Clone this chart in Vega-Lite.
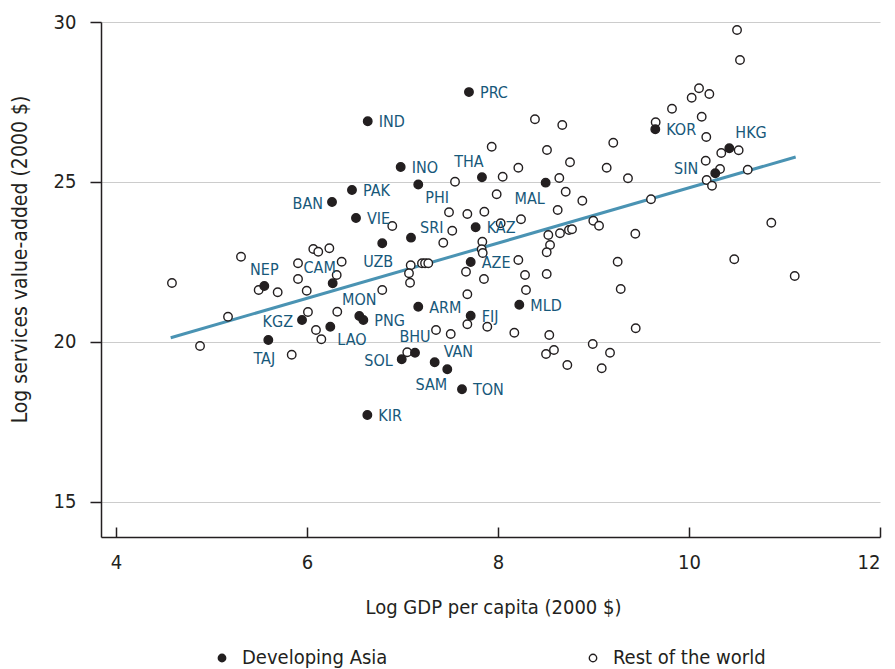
{
  "$schema": "https://vega.github.io/schema/vega-lite/v6.json",
  "width": 779,
  "height": 515,
  "autosize": {"type": "none"},
  "padding": {"left": 101, "top": 22, "right": 15, "bottom": 132},
  "config": {
    "view": {"stroke": null},
    "font": "DejaVu Sans Condensed, Liberation Sans Narrow, sans-serif",
    "axis": {
      "labelFont": "DejaVu Sans Condensed, Liberation Sans Narrow, sans-serif",
      "titleFont": "DejaVu Sans Condensed, Liberation Sans Narrow, sans-serif",
      "labelFontSize": 20,
      "titleFontSize": 20,
      "titleFontWeight": "normal",
      "labelColor": "#231f20",
      "titleColor": "#231f20",
      "domainColor": "#231f20",
      "domainWidth": 1.5,
      "tickColor": "#231f20",
      "tickWidth": 1.5
    },
    "legend": {
      "labelFont": "DejaVu Sans Condensed, Liberation Sans Narrow, sans-serif"
    }
  },
  "datasets": {
    "pts": [
      {"group": "Rest of the world", "gdp": 4.586, "sva": 21.844},
      {"group": "Rest of the world", "gdp": 4.880, "sva": 19.875},
      {"group": "Rest of the world", "gdp": 5.173, "sva": 20.79},
      {"group": "Rest of the world", "gdp": 5.309, "sva": 22.666},
      {"group": "Rest of the world", "gdp": 5.494, "sva": 21.625},
      {"group": "Rest of the world", "gdp": 5.693, "sva": 21.553},
      {"group": "Rest of the world", "gdp": 5.840, "sva": 19.603},
      {"group": "Rest of the world", "gdp": 5.906, "sva": 22.459},
      {"group": "Rest of the world", "gdp": 5.906, "sva": 21.969},
      {"group": "Rest of the world", "gdp": 5.997, "sva": 21.603},
      {"group": "Rest of the world", "gdp": 6.066, "sva": 22.906},
      {"group": "Rest of the world", "gdp": 6.118, "sva": 22.822},
      {"group": "Rest of the world", "gdp": 6.234, "sva": 22.928},
      {"group": "Rest of the world", "gdp": 6.363, "sva": 22.509},
      {"group": "Rest of the world", "gdp": 6.311, "sva": 22.094},
      {"group": "Rest of the world", "gdp": 6.010, "sva": 20.938},
      {"group": "Rest of the world", "gdp": 6.094, "sva": 20.375},
      {"group": "Rest of the world", "gdp": 6.150, "sva": 20.084},
      {"group": "Rest of the world", "gdp": 6.317, "sva": 20.947},
      {"group": "Rest of the world", "gdp": 6.788, "sva": 21.625},
      {"group": "Rest of the world", "gdp": 7.550, "sva": 25.009},
      {"group": "Rest of the world", "gdp": 7.986, "sva": 24.616},
      {"group": "Rest of the world", "gdp": 8.709, "sva": 24.697},
      {"group": "Rest of the world", "gdp": 8.883, "sva": 24.416},
      {"group": "Rest of the world", "gdp": 8.625, "sva": 24.125},
      {"group": "Rest of the world", "gdp": 8.241, "sva": 23.834},
      {"group": "Rest of the world", "gdp": 7.487, "sva": 24.053},
      {"group": "Rest of the world", "gdp": 7.679, "sva": 24.0},
      {"group": "Rest of the world", "gdp": 7.857, "sva": 24.072},
      {"group": "Rest of the world", "gdp": 6.893, "sva": 23.625},
      {"group": "Rest of the world", "gdp": 7.521, "sva": 23.478},
      {"group": "Rest of the world", "gdp": 8.028, "sva": 23.709},
      {"group": "Rest of the world", "gdp": 7.427, "sva": 23.103},
      {"group": "Rest of the world", "gdp": 7.836, "sva": 23.134},
      {"group": "Rest of the world", "gdp": 7.829, "sva": 22.897},
      {"group": "Rest of the world", "gdp": 7.840, "sva": 22.781},
      {"group": "Rest of the world", "gdp": 8.527, "sva": 23.344},
      {"group": "Rest of the world", "gdp": 8.649, "sva": 23.397},
      {"group": "Rest of the world", "gdp": 8.743, "sva": 23.5},
      {"group": "Rest of the world", "gdp": 8.775, "sva": 23.522},
      {"group": "Rest of the world", "gdp": 8.998, "sva": 23.791},
      {"group": "Rest of the world", "gdp": 9.058, "sva": 23.634},
      {"group": "Rest of the world", "gdp": 8.545, "sva": 23.031},
      {"group": "Rest of the world", "gdp": 8.510, "sva": 22.803},
      {"group": "Rest of the world", "gdp": 9.253, "sva": 22.509},
      {"group": "Rest of the world", "gdp": 9.285, "sva": 21.656},
      {"group": "Rest of the world", "gdp": 8.213, "sva": 22.563},
      {"group": "Rest of the world", "gdp": 8.283, "sva": 22.094},
      {"group": "Rest of the world", "gdp": 8.510, "sva": 22.125},
      {"group": "Rest of the world", "gdp": 8.293, "sva": 21.625},
      {"group": "Rest of the world", "gdp": 7.086, "sva": 22.397},
      {"group": "Rest of the world", "gdp": 7.068, "sva": 22.147},
      {"group": "Rest of the world", "gdp": 7.079, "sva": 21.853},
      {"group": "Rest of the world", "gdp": 7.204, "sva": 22.459},
      {"group": "Rest of the world", "gdp": 7.236, "sva": 22.459},
      {"group": "Rest of the world", "gdp": 7.270, "sva": 22.459},
      {"group": "Rest of the world", "gdp": 7.665, "sva": 22.197},
      {"group": "Rest of the world", "gdp": 7.853, "sva": 21.969},
      {"group": "Rest of the world", "gdp": 7.679, "sva": 21.491},
      {"group": "Rest of the world", "gdp": 7.351, "sva": 20.375},
      {"group": "Rest of the world", "gdp": 7.505, "sva": 20.25},
      {"group": "Rest of the world", "gdp": 7.679, "sva": 20.553},
      {"group": "Rest of the world", "gdp": 7.888, "sva": 20.478},
      {"group": "Rest of the world", "gdp": 8.171, "sva": 20.291},
      {"group": "Rest of the world", "gdp": 8.537, "sva": 20.219},
      {"group": "Rest of the world", "gdp": 8.992, "sva": 19.938},
      {"group": "Rest of the world", "gdp": 9.173, "sva": 19.666},
      {"group": "Rest of the world", "gdp": 8.503, "sva": 19.625},
      {"group": "Rest of the world", "gdp": 8.586, "sva": 19.75},
      {"group": "Rest of the world", "gdp": 8.726, "sva": 19.281},
      {"group": "Rest of the world", "gdp": 9.086, "sva": 19.178},
      {"group": "Rest of the world", "gdp": 7.050, "sva": 19.678},
      {"group": "Rest of the world", "gdp": 10.534, "sva": 28.813},
      {"group": "Rest of the world", "gdp": 10.503, "sva": 29.75},
      {"group": "Rest of the world", "gdp": 10.105, "sva": 27.928},
      {"group": "Rest of the world", "gdp": 10.213, "sva": 27.75},
      {"group": "Rest of the world", "gdp": 10.028, "sva": 27.634},
      {"group": "Rest of the world", "gdp": 9.822, "sva": 27.291},
      {"group": "Rest of the world", "gdp": 10.133, "sva": 27.041},
      {"group": "Rest of the world", "gdp": 9.651, "sva": 26.866},
      {"group": "Rest of the world", "gdp": 10.181, "sva": 26.406},
      {"group": "Rest of the world", "gdp": 8.673, "sva": 26.781},
      {"group": "Rest of the world", "gdp": 9.207, "sva": 26.228},
      {"group": "Rest of the world", "gdp": 10.338, "sva": 25.906},
      {"group": "Rest of the world", "gdp": 10.520, "sva": 25.991},
      {"group": "Rest of the world", "gdp": 10.175, "sva": 25.666},
      {"group": "Rest of the world", "gdp": 10.325, "sva": 25.406},
      {"group": "Rest of the world", "gdp": 10.615, "sva": 25.384},
      {"group": "Rest of the world", "gdp": 10.185, "sva": 25.063},
      {"group": "Rest of the world", "gdp": 10.241, "sva": 24.884},
      {"group": "Rest of the world", "gdp": 8.754, "sva": 25.616},
      {"group": "Rest of the world", "gdp": 8.513, "sva": 26.0},
      {"group": "Rest of the world", "gdp": 9.138, "sva": 25.447},
      {"group": "Rest of the world", "gdp": 8.642, "sva": 25.125},
      {"group": "Rest of the world", "gdp": 9.361, "sva": 25.116},
      {"group": "Rest of the world", "gdp": 9.602, "sva": 24.459},
      {"group": "Rest of the world", "gdp": 9.438, "sva": 23.384},
      {"group": "Rest of the world", "gdp": 10.862, "sva": 23.728},
      {"group": "Rest of the world", "gdp": 10.474, "sva": 22.584},
      {"group": "Rest of the world", "gdp": 11.107, "sva": 22.063},
      {"group": "Rest of the world", "gdp": 9.442, "sva": 20.428},
      {"group": "Rest of the world", "gdp": 8.387, "sva": 26.959},
      {"group": "Rest of the world", "gdp": 7.934, "sva": 26.103},
      {"group": "Rest of the world", "gdp": 8.213, "sva": 25.447},
      {"group": "Rest of the world", "gdp": 8.049, "sva": 25.166},
      {"name": "PRC", "group": "Developing Asia", "gdp": 7.696, "sva": 27.81},
      {"name": "IND", "group": "Developing Asia", "gdp": 6.636, "sva": 26.90},
      {"name": "INO", "group": "Developing Asia", "gdp": 6.981, "sva": 25.47},
      {"name": "THA", "group": "Developing Asia", "gdp": 7.832, "sva": 25.15},
      {"name": "PAK", "group": "Developing Asia", "gdp": 6.471, "sva": 24.75},
      {"name": "PHI", "group": "Developing Asia", "gdp": 7.165, "sva": 24.92},
      {"name": "MAL", "group": "Developing Asia", "gdp": 8.499, "sva": 24.98},
      {"name": "BAN", "group": "Developing Asia", "gdp": 6.262, "sva": 24.375},
      {"name": "VIE", "group": "Developing Asia", "gdp": 6.513, "sva": 23.875},
      {"name": "KOR", "group": "Developing Asia", "gdp": 9.647, "sva": 26.647},
      {"name": "HKG", "group": "Developing Asia", "gdp": 10.422, "sva": 26.053},
      {"name": "SIN", "group": "Developing Asia", "gdp": 10.275, "sva": 25.272},
      {"name": "SRI", "group": "Developing Asia", "gdp": 7.089, "sva": 23.26},
      {"name": "KAZ", "group": "Developing Asia", "gdp": 7.766, "sva": 23.584},
      {"name": "UZB", "group": "Developing Asia", "gdp": 6.788, "sva": 23.084},
      {"name": "AZE", "group": "Developing Asia", "gdp": 7.714, "sva": 22.5},
      {"name": "NEP", "group": "Developing Asia", "gdp": 5.553, "sva": 21.75},
      {"name": "CAM", "group": "Developing Asia", "gdp": 6.269, "sva": 21.834},
      {"name": "MON", "group": "Developing Asia", "gdp": 6.548, "sva": 20.8125},
      {"name": "PNG", "group": "Developing Asia", "gdp": 6.590, "sva": 20.6875},
      {"name": "ARM", "group": "Developing Asia", "gdp": 7.165, "sva": 21.103},
      {"name": "FIJ", "group": "Developing Asia", "gdp": 7.714, "sva": 20.822},
      {"name": "MLD", "group": "Developing Asia", "gdp": 8.223, "sva": 21.166},
      {"name": "KGZ", "group": "Developing Asia", "gdp": 5.948, "sva": 20.6875},
      {"name": "LAO", "group": "Developing Asia", "gdp": 6.244, "sva": 20.478},
      {"name": "TAJ", "group": "Developing Asia", "gdp": 5.595, "sva": 20.0625},
      {"name": "BHU", "group": "Developing Asia", "gdp": 7.131, "sva": 19.666},
      {"name": "SOL", "group": "Developing Asia", "gdp": 6.992, "sva": 19.459},
      {"name": "VAN", "group": "Developing Asia", "gdp": 7.337, "sva": 19.366},
      {"name": "SAM", "group": "Developing Asia", "gdp": 7.469, "sva": 19.147},
      {"name": "TON", "group": "Developing Asia", "gdp": 7.623, "sva": 18.522},
      {"name": "KIR", "group": "Developing Asia", "gdp": 6.632, "sva": 17.72}
    ],
    "trend": [
      {"gdp": 4.573, "sva": 20.134},
      {"gdp": 11.117, "sva": 25.781}
    ]
  },
  "layer": [
    {
      "data": {"name": "trend"},
      "mark": {"type": "line", "color": "#4a93b3", "strokeWidth": 3},
      "encoding": {
        "x": {
          "field": "gdp", "type": "quantitative",
          "scale": {"domain": [3.843, 12], "nice": false, "zero": false},
          "axis": {
            "values": [4, 6, 8, 10, 12],
            "format": "d",
            "title": "Log GDP per capita (2000 $)",
            "grid": false,
            "tickSize": -10,
            "labelPadding": 25,
            "titleX": 392,
            "titleY": 70,
            "titleBaseline": "middle"
          }
        },
        "y": {
          "field": "sva", "type": "quantitative",
          "scale": {"domain": [13.906, 30], "nice": false, "zero": false},
          "axis": {
            "values": [15, 20, 25, 30],
            "format": "d",
            "title": "Log services value-added (2000 $)",
            "titleFontSize": 21,
            "grid": true,
            "gridColor": "#cccccc",
            "gridWidth": 1,
            "tickSize": 11,
            "labelPadding": 14,
            "titleX": -81,
            "titleY": 237,
            "titleBaseline": "middle"
          }
        }
      }
    },
    {
      "data": {"name": "pts"},
      "mark": {"type": "point", "shape": "circle", "filled": true, "size": 72, "stroke": "#231f20", "strokeWidth": 1.4, "opacity": 1},
      "encoding": {
        "x": {"field": "gdp", "type": "quantitative"},
        "y": {"field": "sva", "type": "quantitative"},
        "fill": {
          "field": "group", "type": "nominal",
          "scale": {"domain": ["Developing Asia", "Rest of the world"], "range": ["#231f20", "#ffffff"]},
          "legend": {
            "orient": "none",
            "legendX": 111,
            "legendY": 626,
            "direction": "horizontal",
            "title": null,
            "padding": 0,
            "labelFontSize": 20,
            "labelColor": "#231f20",
            "labelLimit": 400,
            "labelOffset": 10,
            "symbolType": "circle",
            "symbolSize": 55,
            "symbolStrokeColor": "#231f20",
            "symbolStrokeWidth": 1.4,
            "columnPadding": 195
          }
        }
      }
    },
    {
      "data": {"name": "pts"},
      "transform": [{"filter": {"field": "name", "oneOf": ["PRC", "IND", "INO", "PAK", "KOR", "ARM", "MLD", "KIR", "PNG", "KAZ", "AZE", "VIE", "FIJ", "TON"]}}],
      "mark": {"type": "text", "align": "left", "baseline": "middle", "dx": 11, "dy": 1, "fontSize": 16, "color": "#17587a"},
      "encoding": {"x": {"field": "gdp", "type": "quantitative"}, "y": {"field": "sva", "type": "quantitative"}, "text": {"field": "name"}}
    },
    {
      "data": {"name": "pts"},
      "transform": [{"filter": {"field": "name", "oneOf": ["BAN", "KGZ", "SOL"]}}],
      "mark": {"type": "text", "align": "right", "baseline": "middle", "dx": -9, "dy": 2, "fontSize": 16, "color": "#17587a"},
      "encoding": {"x": {"field": "gdp", "type": "quantitative"}, "y": {"field": "sva", "type": "quantitative"}, "text": {"field": "name"}}
    },
    {
      "data": {"name": "pts"},
      "transform": [{"filter": {"field": "name", "oneOf": ["SIN"]}}],
      "mark": {"type": "text", "align": "right", "baseline": "middle", "dx": -17, "dy": -4, "fontSize": 16, "color": "#17587a"},
      "encoding": {"x": {"field": "gdp", "type": "quantitative"}, "y": {"field": "sva", "type": "quantitative"}, "text": {"field": "name"}}
    },
    {
      "data": {"name": "pts"},
      "transform": [{"filter": {"field": "name", "oneOf": ["MON", "NEP", "BHU"]}}],
      "mark": {"type": "text", "align": "center", "baseline": "middle", "dx": 0, "dy": -16, "fontSize": 16, "color": "#17587a"},
      "encoding": {"x": {"field": "gdp", "type": "quantitative"}, "y": {"field": "sva", "type": "quantitative"}, "text": {"field": "name"}}
    },
    {
      "data": {"name": "pts"},
      "transform": [{"filter": {"field": "name", "oneOf": ["CAM", "THA"]}}],
      "mark": {"type": "text", "align": "center", "baseline": "middle", "dx": -13, "dy": -15, "fontSize": 16, "color": "#17587a"},
      "encoding": {"x": {"field": "gdp", "type": "quantitative"}, "y": {"field": "sva", "type": "quantitative"}, "text": {"field": "name"}}
    },
    {
      "data": {"name": "pts"},
      "transform": [{"filter": {"field": "name", "oneOf": ["HKG"]}}],
      "mark": {"type": "text", "align": "left", "baseline": "middle", "dx": 6, "dy": -15, "fontSize": 16, "color": "#17587a"},
      "encoding": {"x": {"field": "gdp", "type": "quantitative"}, "y": {"field": "sva", "type": "quantitative"}, "text": {"field": "name"}}
    },
    {
      "data": {"name": "pts"},
      "transform": [{"filter": {"field": "name", "oneOf": ["SRI", "VAN"]}}],
      "mark": {"type": "text", "align": "left", "baseline": "middle", "dx": 9, "dy": -10, "fontSize": 16, "color": "#17587a"},
      "encoding": {"x": {"field": "gdp", "type": "quantitative"}, "y": {"field": "sva", "type": "quantitative"}, "text": {"field": "name"}}
    },
    {
      "data": {"name": "pts"},
      "transform": [{"filter": {"field": "name", "oneOf": ["UZB", "TAJ"]}}],
      "mark": {"type": "text", "align": "center", "baseline": "middle", "dx": -4, "dy": 19, "fontSize": 16, "color": "#17587a"},
      "encoding": {"x": {"field": "gdp", "type": "quantitative"}, "y": {"field": "sva", "type": "quantitative"}, "text": {"field": "name"}}
    },
    {
      "data": {"name": "pts"},
      "transform": [{"filter": {"field": "name", "oneOf": ["PHI", "LAO"]}}],
      "mark": {"type": "text", "align": "left", "baseline": "middle", "dx": 7, "dy": 13, "fontSize": 16, "color": "#17587a"},
      "encoding": {"x": {"field": "gdp", "type": "quantitative"}, "y": {"field": "sva", "type": "quantitative"}, "text": {"field": "name"}}
    },
    {
      "data": {"name": "pts"},
      "transform": [{"filter": {"field": "name", "oneOf": ["MAL", "SAM"]}}],
      "mark": {"type": "text", "align": "center", "baseline": "middle", "dx": -16, "dy": 16, "fontSize": 16, "color": "#17587a"},
      "encoding": {"x": {"field": "gdp", "type": "quantitative"}, "y": {"field": "sva", "type": "quantitative"}, "text": {"field": "name"}}
    }
  ]
}
